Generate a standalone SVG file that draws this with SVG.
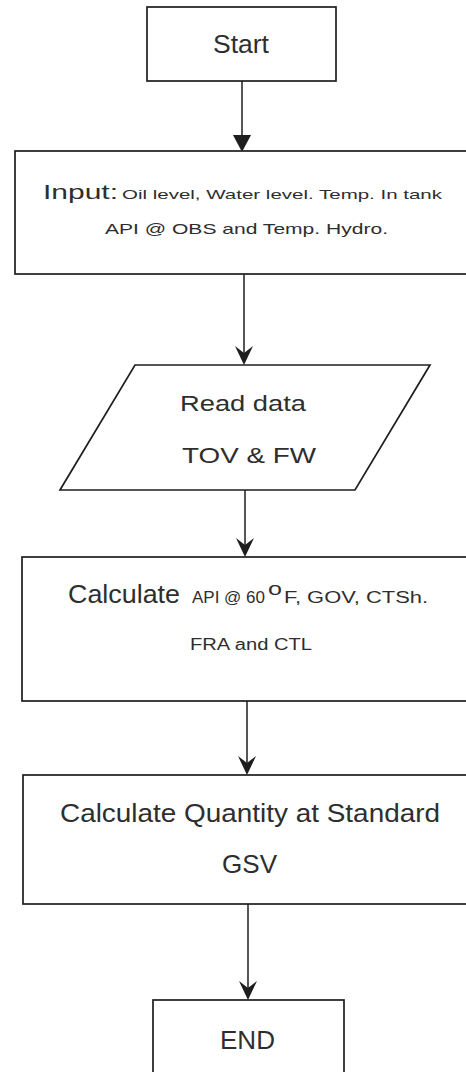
<svg xmlns="http://www.w3.org/2000/svg" width="466" height="1072" viewBox="0 0 466 1072">
<style>
.box{fill:#fff;stroke:#1e1e1e;stroke-width:1.7}
.t{font-family:"Liberation Sans",Arial,sans-serif;fill:#2e2e2e}
.ln{stroke:#1e1e1e;stroke-width:1.5;fill:none}
.ah{fill:#1e1e1e}
</style>
<rect width="466" height="1072" fill="#fff"/>
<g id="connectors">
<line class="ln" x1="242" y1="81" x2="242" y2="140"/>
<path class="ah" d="M233,135 L251,135 L242,152 Z"/>
<line class="ln" x1="244" y1="274" x2="244" y2="355"/>
<path class="ah" d="M244,365 L235,346 L244,353 L253,346 Z"/>
<line class="ln" x1="245" y1="490" x2="245" y2="548"/>
<path class="ah" d="M245,557 L236,538 L245,545 L254,538 Z"/>
<line class="ln" x1="247" y1="701" x2="247" y2="765"/>
<path class="ah" d="M247,775 L238,756 L247,763 L256,756 Z"/>
<line class="ln" x1="248" y1="904" x2="248" y2="990"/>
<path class="ah" d="M248,1000 L239,981 L248,988 L257,981 Z"/>
</g>
<g id="start">
<rect class="box" x="147" y="7" width="189" height="74"/>
<text class="t" x="213" y="53" font-size="26" textLength="56" lengthAdjust="spacingAndGlyphs">Start</text>
</g>
<g id="input">
<rect class="box" x="15" y="151" width="460" height="123"/>
<text class="t" x="43" y="199" font-size="20" textLength="75" lengthAdjust="spacingAndGlyphs">Input:</text>
<text class="t" x="122" y="199" font-size="13.5" textLength="320" lengthAdjust="spacingAndGlyphs">Oil level, Water level. Temp. In tank</text>
<text class="t" x="105" y="234" font-size="15" textLength="283" lengthAdjust="spacingAndGlyphs">API @ OBS and Temp. Hydro.</text>
</g>
<g id="read">
<path class="box" d="M135,365 L430,365 L355,490 L60,490 Z"/>
<text class="t" x="180" y="411" font-size="22" textLength="126" lengthAdjust="spacingAndGlyphs">Read data</text>
<text class="t" x="182" y="463" font-size="22" textLength="134" lengthAdjust="spacingAndGlyphs">TOV &amp; FW</text>
</g>
<g id="calc1">
<rect class="box" x="22" y="557" width="453" height="144"/>
<text class="t" x="68" y="603" font-size="25" textLength="112" lengthAdjust="spacingAndGlyphs">Calculate</text>
<text class="t" x="192" y="603" font-size="16" textLength="73" lengthAdjust="spacingAndGlyphs">API @ 60</text>
<text class="t" x="268" y="595" font-size="18" textLength="14" lengthAdjust="spacingAndGlyphs">o</text>
<text class="t" x="284" y="603" font-size="16" textLength="144" lengthAdjust="spacingAndGlyphs">F, GOV, CTSh.</text>
<text class="t" x="190" y="650" font-size="16" textLength="122" lengthAdjust="spacingAndGlyphs">FRA and CTL</text>
</g>
<g id="calc2">
<rect class="box" x="23" y="775" width="452" height="129"/>
<text class="t" x="60" y="822" font-size="26" textLength="380" lengthAdjust="spacingAndGlyphs">Calculate Quantity at Standard</text>
<text class="t" x="222" y="873" font-size="25" textLength="55" lengthAdjust="spacingAndGlyphs">GSV</text>
</g>
<g id="end">
<rect class="box" x="153" y="1000" width="191" height="90"/>
<text class="t" x="220" y="1049" font-size="26" textLength="55" lengthAdjust="spacingAndGlyphs">END</text>
</g>
</svg>
